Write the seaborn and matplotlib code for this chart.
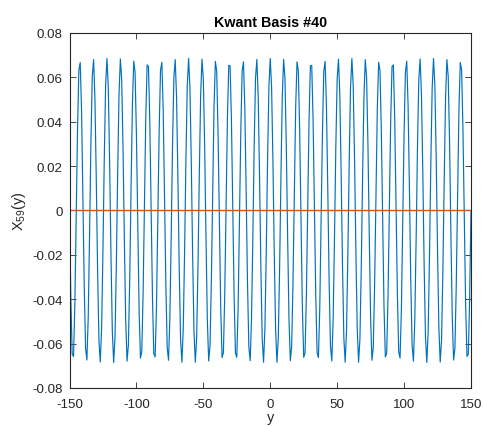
import matplotlib
matplotlib.use("Agg")
import matplotlib.pyplot as plt
import seaborn as sns
import pandas as pd

# ---- data ----
y_positions = list(range(-150, 151))

psi_left = [  # y = -150 .. -1
    0.0, -0.0397, -0.0647, -0.0658, -0.0425, -0.0036, 0.0367, 0.0634, 0.0667, 0.0453,
    0.0072, -0.0336, -0.0620, -0.0674, -0.0479, -0.0107, 0.0305, 0.0604, 0.0680, 0.0504,
    0.0142, -0.0272, -0.0586, -0.0683, -0.0528, -0.0177, 0.0239, 0.0567, 0.0685, 0.0550,
    0.0212, -0.0205, -0.0546, -0.0685, -0.0571, -0.0246, 0.0170, 0.0523, 0.0683, 0.0590,
    0.0279, -0.0135, -0.0499, -0.0679, -0.0607, -0.0311, 0.0100, 0.0474, 0.0673, 0.0623,
    0.0343, -0.0064, -0.0448, -0.0665, -0.0637, -0.0373, 0.0029, 0.0420, 0.0656, 0.0649,
    0.0403, 0.0007, -0.0391, -0.0645, -0.0660, -0.0431, -0.0043, 0.0361, 0.0631, 0.0668,
    0.0458, 0.0079, -0.0330, -0.0617, -0.0675, -0.0484, -0.0114, 0.0298, 0.0600, 0.0680,
    0.0509, 0.0149, -0.0265, -0.0582, -0.0684, -0.0532, -0.0184, 0.0232, 0.0562, 0.0685,
    0.0554, 0.0219, -0.0198, -0.0541, -0.0684, -0.0575, -0.0252, 0.0163, 0.0519, 0.0682,
    0.0593, 0.0285, -0.0128, -0.0494, -0.0678, -0.0610, -0.0317, 0.0093, 0.0469, 0.0672,
    0.0626, 0.0349, -0.0057, -0.0442, -0.0663, -0.0640, -0.0379, 0.0022, 0.0414, 0.0654,
    0.0652, 0.0408, 0.0014, -0.0385, -0.0642, -0.0662, -0.0437, -0.0050, 0.0355, 0.0629,
    0.0670, 0.0464, 0.0086, -0.0324, -0.0614, -0.0677, -0.0489, -0.0121, 0.0292, 0.0597,
    0.0681, 0.0514, 0.0156, -0.0259, -0.0578, -0.0684, -0.0537, -0.0191, 0.0225, 0.0558,
]

psi_right = [  # y = 0 .. 150
    0.0685, 0.0558, 0.0225, -0.0191, -0.0537, -0.0684, -0.0578, -0.0259, 0.0156, 0.0514,
    0.0681, 0.0597, 0.0292, -0.0121, -0.0489, -0.0677, -0.0614, -0.0324, 0.0086, 0.0464,
    0.0670, 0.0629, 0.0355, -0.0050, -0.0437, -0.0662, -0.0642, -0.0385, 0.0014, 0.0408,
    0.0652, 0.0654, 0.0414, 0.0022, -0.0379, -0.0640, -0.0663, -0.0442, -0.0057, 0.0349,
    0.0626, 0.0672, 0.0469, 0.0093, -0.0317, -0.0610, -0.0678, -0.0494, -0.0128, 0.0285,
    0.0593, 0.0682, 0.0519, 0.0163, -0.0252, -0.0575, -0.0684, -0.0541, -0.0198, 0.0219,
    0.0554, 0.0685, 0.0562, 0.0232, -0.0184, -0.0532, -0.0684, -0.0582, -0.0265, 0.0149,
    0.0509, 0.0680, 0.0600, 0.0298, -0.0114, -0.0484, -0.0675, -0.0617, -0.0330, 0.0079,
    0.0458, 0.0668, 0.0631, 0.0361, -0.0043, -0.0431, -0.0660, -0.0645, -0.0391, 0.0007,
    0.0403, 0.0649, 0.0656, 0.0420, 0.0029, -0.0373, -0.0637, -0.0665, -0.0448, -0.0064,
    0.0343, 0.0623, 0.0673, 0.0474, 0.0100, -0.0311, -0.0607, -0.0679, -0.0499, -0.0135,
    0.0279, 0.0590, 0.0683, 0.0523, 0.0170, -0.0246, -0.0571, -0.0685, -0.0546, -0.0205,
    0.0212, 0.0550, 0.0685, 0.0567, 0.0239, -0.0177, -0.0528, -0.0683, -0.0586, -0.0272,
    0.0142, 0.0504, 0.0680, 0.0604, 0.0305, -0.0107, -0.0479, -0.0674, -0.0620, -0.0336,
    0.0072, 0.0453, 0.0667, 0.0634, 0.0367, -0.0036, -0.0425, -0.0658, -0.0647, -0.0397,
    0.0,
]

psi_real = psi_left + psi_right
psi_imag = [0.0] * len(y_positions)

x_ticks = [-150, -100, -50, 0, 50, 100, 150]
x_tick_labels = ["-150", "-100", "-50", "0", "50", "100", "150"]
y_ticks = [-0.08, -0.06, -0.04, -0.02, 0.0, 0.02, 0.04, 0.06, 0.08]
y_tick_labels = ["-0.08", "-0.06", "-0.04", "-0.02", "0", "0.02", "0.04", "0.06", "0.08"]

title_text = "Kwant Basis #40"
x_label = "y"
y_label = r"X$_{59}$(y)"

# ---- style ----
sns.set_style("white")
plt.rcParams["font.family"] = ["Liberation Sans", "DejaVu Sans"]
plt.rcParams["mathtext.fontset"] = "custom"
plt.rcParams["mathtext.rm"] = "Liberation Sans"
plt.rcParams["mathtext.it"] = "Liberation Sans"

df = pd.DataFrame({"y": y_positions, "real": psi_real, "imag": psi_imag})

fig = plt.figure(figsize=(4.84, 4.27), dpi=100)
ax = fig.add_axes([0.1436, 0.089, 0.8295, 0.8314])

sns.lineplot(data=df, x="y", y="real", ax=ax, color="#0072BD", linewidth=0.85)
sns.lineplot(data=df, x="y", y="imag", ax=ax, color="#D95319", linewidth=1.0)

ax.set_xlim(-150, 150)
ax.set_ylim(-0.08, 0.08)
ax.set_xticks(x_ticks)
ax.set_xticklabels(x_tick_labels)
ax.set_yticks(y_ticks)
ax.set_yticklabels(y_tick_labels)

edge = "#262626"
for s in ax.spines.values():
    s.set_visible(True)
    s.set_color(edge)
    s.set_linewidth(0.8)

ax.tick_params(axis="both", which="both", direction="in", length=4, width=0.6,
               colors=edge, labelsize=9.6, top=True, right=True,
               bottom=True, left=True)
ax.tick_params(axis="x", pad=7)
ax.tick_params(axis="y", pad=5)

ax.set_title(title_text, fontsize=10.3, fontweight="bold", color="black", pad=5)
ax.set_xlabel(x_label, fontsize=10.5, color=edge, labelpad=0.5)
ax.set_ylabel(y_label, fontsize=10.5, color=edge, labelpad=3)

fig.savefig("out.png", dpi=100)
